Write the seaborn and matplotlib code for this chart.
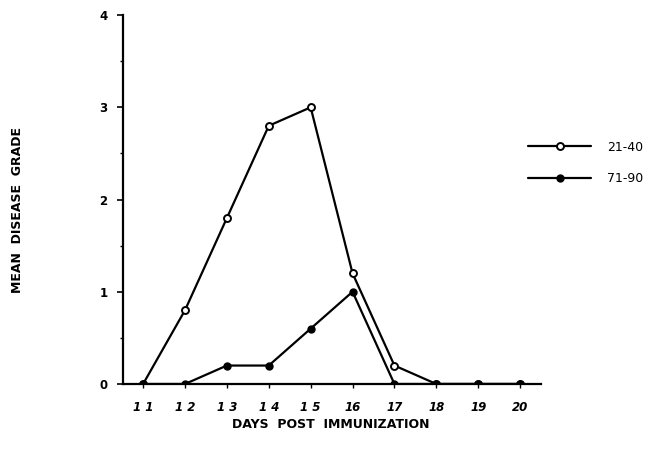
import matplotlib
matplotlib.use("Agg")
import matplotlib.pyplot as plt
import seaborn as sns
import pandas as pd
from matplotlib.ticker import MultipleLocator

days = [11, 12, 13, 14, 15, 16, 17, 18, 19, 20]
grade_21_40 = [0, 0.8, 1.8, 2.8, 3.0, 1.2, 0.2, 0, 0, 0]
grade_71_90 = [0, 0, 0.2, 0.2, 0.6, 1.0, 0, 0, 0, 0]
series_names = ["21-40", "71-90"]
x_tick_labels = ["1 1", "1 2", "1 3", "1 4", "1 5", "16", "17", "18", "19", "20"]
y_ticks = [0, 1, 2, 3, 4]

sns.set_theme(style="ticks")
plt.rcParams['font.family'] = ['DejaVu Sans']
plt.rcParams['text.color'] = 'black'
plt.rcParams['xtick.color'] = 'black'
plt.rcParams['ytick.color'] = 'black'
plt.rcParams['axes.labelcolor'] = 'black'

df1 = pd.DataFrame({"day": days, "grade": grade_21_40})
df2 = pd.DataFrame({"day": days, "grade": grade_71_90})

fig = plt.figure(figsize=(6.55, 4.58), dpi=100)
ax = fig.add_axes([0.1878, 0.1616, 0.826 - 0.1878, 0.967 - 0.1616])

sns.lineplot(data=df1, x="day", y="grade", ax=ax, color="black", lw=1.6,
             marker="o", markersize=5, markerfacecolor="white",
             markeredgecolor="black", markeredgewidth=1.4, label=series_names[0])
sns.lineplot(data=df2, x="day", y="grade", ax=ax, color="black", lw=1.6,
             marker="o", markersize=5, markerfacecolor="black",
             markeredgecolor="black", markeredgewidth=1.0, label=series_names[1])

ax.set_xlim(10.52, 20.5)
ax.set_ylim(0, 4)
ax.set_xticks(days)
ax.set_xticklabels(x_tick_labels, fontsize=8.5, style="italic", fontweight="bold", color="black")
ax.set_yticks(y_ticks)
ax.set_yticklabels([str(v) for v in y_ticks], fontsize=8.5, fontweight="bold", color="black")
ax.yaxis.set_minor_locator(MultipleLocator(0.5))
ax.tick_params(axis="y", which="major", length=4, width=1.2, pad=7, color="black")
ax.tick_params(axis="y", which="minor", length=2, width=1.0, color="black")
ax.tick_params(axis="x", which="major", length=3, width=1.0, pad=9, color="black")

for s in ["top", "right"]:
    ax.spines[s].set_visible(False)
for s in ["left", "bottom"]:
    ax.spines[s].set_linewidth(1.6)
    ax.spines[s].set_color("black")

ax.set_xlabel("")
ax.set_ylabel("")
fig.text(0.505, 1 - 424 / 458, "DAYS  POST  IMMUNIZATION", ha="center", va="center",
         fontsize=9, fontweight="bold", color="black")
fig.text(18 / 655, 1 - 210 / 458, "MEAN  DISEASE  GRADE", ha="center", va="center",
         rotation=90, fontsize=9, fontweight="bold", color="black")

leg = ax.legend(loc="center left", bbox_to_anchor=(517 / 655, 1 - 163 / 458),
                bbox_transform=fig.transFigure, frameon=False, fontsize=9,
                handlelength=5.0, handletextpad=1.3, labelspacing=1.5)
for t in leg.get_texts():
    t.set_color("black")

fig.savefig("out.png", dpi=100)
